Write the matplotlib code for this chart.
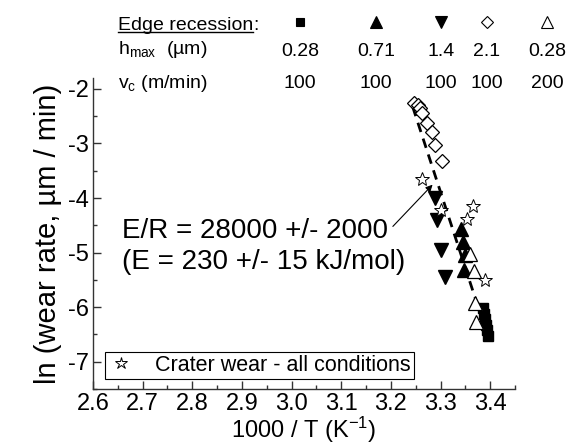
import matplotlib
matplotlib.use("Agg")
import matplotlib.pyplot as plt
from matplotlib.lines import Line2D
from matplotlib.ticker import MultipleLocator, FormatStrFormatter

plt.rcParams['font.family'] = ['Liberation Sans', 'DejaVu Sans']
plt.rcParams['mathtext.fontset'] = 'custom'
plt.rcParams['mathtext.rm'] = 'Liberation Sans'
plt.rcParams['mathtext.it'] = 'Liberation Sans:italic'
plt.rcParams['axes.unicode_minus'] = False

# ---- data (1000/T, ln wear rate) ----
sq_x = [3.385, 3.387, 3.389, 3.391, 3.393, 3.395]
sq_y = [-6.02, -6.12, -6.22, -6.32, -6.42, -6.52]
up_x = [3.342, 3.345, 3.350, 3.347]
up_y = [-4.56, -4.81, -5.05, -5.31]
dn_x = [3.288, 3.293, 3.300, 3.308]
dn_y = [-4.00, -4.41, -4.96, -5.45]
di_x = [3.2465, 3.2545, 3.258, 3.2634, 3.2727, 3.2821, 3.2881, 3.3028]
di_y = [-2.25, -2.29, -2.35, -2.44, -2.62, -2.79, -3.02, -3.33]
ot_x = [3.360, 3.367, 3.370, 3.372]
ot_y = [-5.03, -5.33, -5.92, -6.27]
st_x = [3.263, 3.300, 3.353, 3.365, 3.389]
st_y = [-3.65, -4.22, -4.38, -4.15, -5.50]
fit_x = [3.244, 3.392]
fit_y = [-2.33, -6.45]

hmax_labels = ['0.28', '0.71', '1.4', '2.1', '0.28']
vc_labels = ['100', '100', '100', '100', '200']
header_markers = [('s', 'black'), ('^', 'black'), ('v', 'black'), ('D', 'white'), ('^', 'white')]

fig = plt.figure(figsize=(5.7, 4.48), dpi=100)
ax = fig.add_axes([93/570, 1-389/448, 422/570, 311/448])

ax.plot(fit_x, fit_y, color='black', lw=2.0, ls=(0, (3.5, 2.5)), zorder=2)
ax.plot(di_x, di_y, ls='none', marker='D', ms=7, mfc='white', mec='black', mew=0.9, zorder=3)
ax.plot(st_x, st_y, ls='none', marker='*', ms=10, mfc='white', mec='black', mew=0.7, zorder=4,
        label='Crater wear - all conditions')
ax.plot(dn_x, dn_y, ls='none', marker='v', ms=10, mfc='black', mec='black', zorder=3)
ax.plot(up_x, up_y, ls='none', marker='^', ms=10, mfc='black', mec='black', zorder=3)
ax.plot(ot_x, ot_y, ls='none', marker='^', ms=10, mfc='white', mec='black', mew=0.9, zorder=4)
ax.plot(sq_x, sq_y, ls='none', marker='s', ms=7, mfc='black', mec='black', zorder=3)

ax.text(2.658, -4.61, 'E/R = 28000 +/- 2000', fontsize=20, va='center', ha='left')
ax.text(2.658, -5.18, '(E = 230 +/- 15 kJ/mol)', fontsize=20, va='center', ha='left')
ax.annotate('', xy=(3.284, -3.755), xytext=(3.204, -4.52),
            arrowprops=dict(arrowstyle='-|>', color='black', lw=0.8, mutation_scale=10,
                            shrinkA=0, shrinkB=0))

ax.set_xlim(2.6, 3.45)
ax.set_ylim(-7.5, -1.8)
ax.xaxis.set_minor_locator(MultipleLocator(0.05))
ax.xaxis.set_major_formatter(FormatStrFormatter('%.1f'))
ax.yaxis.set_major_locator(MultipleLocator(1))
ax.yaxis.set_minor_locator(MultipleLocator(0.5))
ax.set_xticks([2.6, 2.7, 2.8, 2.9, 3.0, 3.1, 3.2, 3.3, 3.4])
for s in ['top', 'right']:
    ax.spines[s].set_visible(False)
for s in ['left', 'bottom']:
    ax.spines[s].set_linewidth(1.0)
    ax.spines[s].set_color('#333333')
ax.tick_params(which='major', direction='in', length=6, width=1, labelsize=17, pad=3, color='#333333')
ax.tick_params(which='minor', direction='in', length=3, width=1, color='#333333')
ax.set_xlabel('1000 / T (K$^{\\mathregular{-1}}$)', fontsize=17, labelpad=0)
ax.set_ylabel('ln (wear rate, µm / min)', fontsize=21, labelpad=4)

leg = ax.legend(loc='lower left', bbox_to_anchor=(0.028, 0.032), borderaxespad=0,
                fontsize=15.5, frameon=True, fancybox=False, edgecolor='black', framealpha=1,
                handlelength=1.2, handletextpad=1.0, borderpad=0.15, markerscale=0.9)
leg.get_frame().set_linewidth(0.8)

# ---- header ----
def fx(px):
    return px / 570
def fy(py):
    return 1 - py / 448

t_edge = fig.text(fx(118), fy(25), 'Edge recession', fontsize=14, va='center', ha='left')
fig.canvas.draw()
bb = t_edge.get_window_extent()
fig.text(bb.x1 / 570, fy(25), ':', fontsize=14, va='center', ha='left')
fig.add_artist(Line2D([bb.x0 / 570, bb.x1 / 570], [bb.y0 / 448 + 0.003, bb.y0 / 448 + 0.003],
                      transform=fig.transFigure, color='black', lw=1))
fig.text(fx(118), fy(50), 'h$_{\\mathregular{max}}$  (µm)', fontsize=14, va='center', ha='left')
fig.text(fx(118), fy(83), 'v$_{\\mathregular{c}}$ (m/min)', fontsize=14, va='center', ha='left')

col_x = [300, 376, 441, 487, 547]
for cx, (m, fc), h, v in zip(col_x, header_markers, hmax_labels, vc_labels):
    ms = 6 if m in ('s', 'D') else 8
    fig.add_artist(Line2D([fx(cx)], [fy(22)], transform=fig.transFigure, ls='none',
                          marker=m, ms=ms, mfc=fc, mec='black', mew=0.8))
    fig.text(fx(cx), fy(51), h, fontsize=14, va='center', ha='center')
    fig.text(fx(cx), fy(83), v, fontsize=14, va='center', ha='center')

fig.savefig('out.png', dpi=100)
